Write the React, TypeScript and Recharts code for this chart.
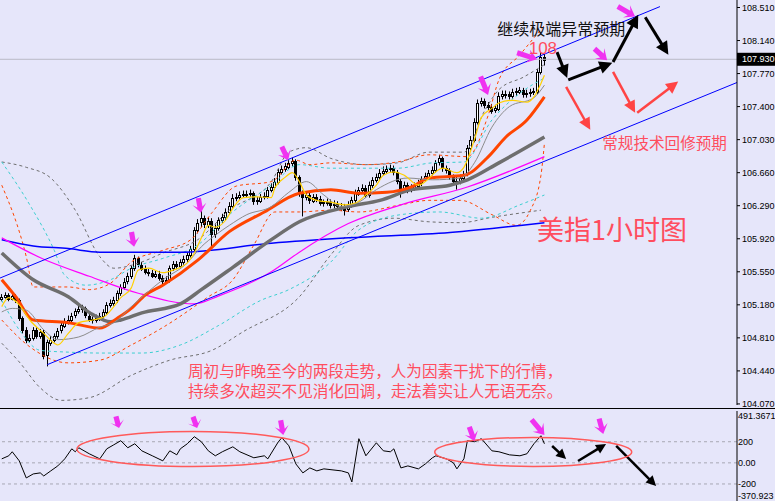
import React from "react";
import { ComposedChart, Bar, Line, XAxis, YAxis, ReferenceLine, ReferenceDot } from "recharts";

// ---------- candles (1h USD index) ----------
const opens = [
  105.25, 105.27, 105.29, 105.25, 105.28, 105.23, 105.03, 104.90, 104.79, 104.81,
  104.90, 104.83, 104.88, 104.61, 104.76, 104.79, 104.83, 104.89, 104.95, 104.99,
  105.01, 105.06, 105.11, 105.13, 105.14, 105.06, 105.02, 105.01, 105.03, 105.06,
  105.10, 105.18, 105.20, 105.23, 105.31, 105.38, 105.44, 105.50, 105.59, 105.70,
  105.63, 105.59, 105.55, 105.54, 105.51, 105.53, 105.48, 105.45, 105.46, 105.59,
  105.64, 105.62, 105.66, 105.69, 105.74, 105.81, 106.02, 106.10, 106.15, 106.08,
  106.12, 105.97, 106.04, 106.13, 106.16, 106.22, 106.29, 106.38, 106.39, 106.41,
  106.42, 106.42, 106.43, 106.34, 106.35, 106.39, 106.40, 106.47, 106.50, 106.56,
  106.67, 106.70, 106.73, 106.77, 106.79, 106.61, 106.43, 106.39, 106.41, 106.35,
  106.39, 106.37, 106.33, 106.32, 106.33, 106.30, 106.31, 106.29, 106.28, 106.25,
  106.30, 106.35, 106.43, 106.47, 106.49, 106.41, 106.52, 106.58, 106.61, 106.66,
  106.68, 106.70, 106.71, 106.67, 106.57, 106.49, 106.52, 106.47, 106.49, 106.51,
  106.54, 106.59, 106.62, 106.66, 106.69, 106.77, 106.82, 106.71, 106.69, 106.62,
  106.56, 106.57, 106.60, 106.65, 106.94, 107.03, 107.23, 107.44, 107.46, 107.42,
  107.40, 107.36, 107.38, 107.52, 107.54, 107.54, 107.52, 107.56, 107.57, 107.59,
  107.54, 107.55, 107.56, 107.57, 107.79, 107.96,
];
const closes = [
  105.27, 105.29, 105.25, 105.28, 105.23, 105.03, 104.90, 104.79, 104.81, 104.90,
  104.83, 104.88, 104.61, 104.76, 104.79, 104.83, 104.89, 104.95, 104.99, 105.01,
  105.06, 105.11, 105.13, 105.14, 105.06, 105.02, 105.01, 105.03, 105.06, 105.10,
  105.18, 105.20, 105.23, 105.31, 105.38, 105.44, 105.50, 105.59, 105.70, 105.63,
  105.59, 105.55, 105.54, 105.51, 105.53, 105.48, 105.45, 105.46, 105.59, 105.64,
  105.62, 105.66, 105.69, 105.74, 105.81, 106.02, 106.10, 106.15, 106.08, 106.12,
  105.97, 106.04, 106.13, 106.16, 106.22, 106.29, 106.38, 106.39, 106.41, 106.42,
  106.42, 106.43, 106.34, 106.35, 106.39, 106.40, 106.47, 106.50, 106.56, 106.67,
  106.70, 106.73, 106.77, 106.79, 106.61, 106.43, 106.39, 106.41, 106.35, 106.39,
  106.37, 106.33, 106.32, 106.33, 106.30, 106.31, 106.29, 106.28, 106.25, 106.30,
  106.35, 106.43, 106.47, 106.49, 106.41, 106.52, 106.58, 106.61, 106.66, 106.68,
  106.70, 106.71, 106.67, 106.57, 106.49, 106.52, 106.47, 106.49, 106.51, 106.54,
  106.59, 106.62, 106.66, 106.69, 106.77, 106.82, 106.71, 106.69, 106.62, 106.56,
  106.57, 106.60, 106.65, 106.94, 107.03, 107.23, 107.44, 107.46, 107.42, 107.40,
  107.36, 107.38, 107.52, 107.54, 107.54, 107.52, 107.56, 107.57, 107.59, 107.54,
  107.55, 107.56, 107.57, 107.79, 107.96, 107.93,
];
const highs = [
  105.30, 105.32, 105.31, 105.31, 105.30, 105.25, 105.05, 104.93, 104.85, 104.93,
  104.93, 104.91, 104.90, 104.79, 104.83, 104.86, 104.92, 104.98, 105.03, 105.06,
  105.09, 105.14, 105.17, 105.18, 105.16, 105.09, 105.05, 105.07, 105.09, 105.13,
  105.21, 105.24, 105.27, 105.34, 105.41, 105.48, 105.54, 105.62, 105.74, 105.72,
  105.66, 105.62, 105.58, 105.57, 105.56, 105.56, 105.51, 105.50, 105.62, 105.67,
  105.67, 105.69, 105.73, 105.77, 105.84, 106.05, 106.14, 106.24, 106.18, 106.16,
  106.15, 106.08, 106.16, 106.20, 106.26, 106.33, 106.42, 106.43, 106.45, 106.46,
  106.46, 106.47, 106.45, 106.39, 106.42, 106.44, 106.50, 106.54, 106.60, 106.70,
  106.74, 106.77, 106.80, 106.83, 106.81, 106.63, 106.46, 106.44, 106.44, 106.42,
  106.42, 106.40, 106.36, 106.37, 106.36, 106.35, 106.34, 106.32, 106.31, 106.34,
  106.39, 106.47, 106.50, 106.53, 106.52, 106.56, 106.61, 106.65, 106.70, 106.73,
  106.74, 106.75, 106.74, 106.69, 106.59, 106.56, 106.55, 106.53, 106.55, 106.58,
  106.62, 106.66, 106.69, 106.73, 106.80, 106.86, 106.84, 106.74, 106.71, 106.64,
  106.61, 106.64, 106.68, 106.97, 107.07, 107.27, 107.48, 107.50, 107.49, 107.45,
  107.43, 107.42, 107.56, 107.58, 107.58, 107.57, 107.60, 107.61, 107.62, 107.61,
  107.59, 107.60, 107.61, 107.82, 108.01, 107.99,
];
const lows = [
  105.22, 105.25, 105.22, 105.23, 105.20, 105.00, 104.86, 104.75, 104.76, 104.78,
  104.80, 104.80, 104.57, 104.49, 104.72, 104.76, 104.80, 104.86, 104.92, 104.96,
  104.98, 105.03, 105.08, 105.09, 105.03, 104.99, 104.97, 104.98, 105.00, 105.03,
  105.07, 105.15, 105.17, 105.20, 105.28, 105.35, 105.41, 105.47, 105.56, 105.60,
  105.56, 105.52, 105.50, 105.48, 105.48, 105.45, 105.41, 105.42, 105.43, 105.56,
  105.58, 105.59, 105.63, 105.66, 105.71, 105.78, 105.98, 106.05, 106.04, 106.04,
  105.82, 105.93, 106.01, 106.10, 106.13, 106.19, 106.26, 106.34, 106.36, 106.38,
  106.38, 106.39, 106.30, 106.30, 106.32, 106.36, 106.37, 106.44, 106.47, 106.53,
  106.64, 106.67, 106.70, 106.73, 106.57, 106.39, 106.17, 106.35, 106.31, 106.32,
  106.33, 106.29, 106.28, 106.29, 106.26, 106.26, 106.25, 106.23, 106.18, 106.22,
  106.27, 106.32, 106.40, 106.44, 106.38, 106.38, 106.49, 106.55, 106.58, 106.63,
  106.65, 106.67, 106.63, 106.53, 106.38, 106.45, 106.43, 106.44, 106.46, 106.48,
  106.51, 106.56, 106.59, 106.63, 106.66, 106.74, 106.67, 106.65, 106.58, 106.52,
  106.47, 106.53, 106.56, 106.62, 106.91, 107.00, 107.20, 107.40, 107.38, 107.36,
  107.32, 107.33, 107.35, 107.48, 107.49, 107.48, 107.49, 107.52, 107.54, 107.50,
  107.50, 107.51, 107.53, 107.54, 107.76, 107.86,
];

// ---------- moving averages (bar index, price) ----------
const maYellow: [number, number][] = [
  [0, 105.16], [2, 105.26], [5, 105.18], [8, 105.01], [12, 104.86], [15, 104.75], [16, 104.73], [19, 104.86],
  [22, 104.98], [26, 105.01], [29, 105.04], [32, 105.16], [34, 105.26], [37, 105.37], [39, 105.57], [42, 105.59],
  [46, 105.54], [49, 105.57], [53, 105.65], [55, 105.76], [57, 105.93], [59, 106.07], [61, 106.05], [64, 106.13],
  [66, 106.26], [69, 106.38], [73, 106.39], [77, 106.38], [78, 106.49], [81, 106.61], [83, 106.66], [85, 106.56],
  [87, 106.41], [90, 106.35], [94, 106.33], [98, 106.30], [101, 106.32], [104, 106.41], [107, 106.52], [109, 106.63],
  [112, 106.67], [115, 106.63], [119, 106.52], [126, 106.71], [130, 106.66], [132, 106.72], [135, 107.03], [137, 107.28],
  [140, 107.38], [142, 107.44], [146, 107.47], [150, 107.45], [152, 107.51], [154, 107.66], [155, 107.75],
];
const maThinGray: [number, number][] = [
  [0, 105.10], [3, 105.14], [7, 105.12], [12, 104.90], [16, 104.79], [22, 104.82], [28, 104.93], [32, 104.98],
  [37, 105.16], [46, 105.46], [53, 105.65], [57, 105.83], [61, 105.96], [65, 106.07], [70, 106.19], [77, 106.28],
  [82, 106.44], [87, 106.56], [92, 106.41], [97, 106.28], [102, 106.33], [107, 106.47], [116, 106.60], [123, 106.58],
  [131, 106.60], [135, 106.77], [140, 107.17], [145, 107.40], [152, 107.50], [155, 107.64],
];
const maOrange: [number, number][] = [
  [0, 105.46], [4, 105.27], [9, 105.01], [19, 104.98], [28, 104.92], [33, 105.03], [37, 105.14], [41, 105.29],
  [46, 105.40], [56, 105.68], [65, 106.00], [75, 106.22], [85, 106.43], [94, 106.47], [102, 106.43], [110, 106.44],
  [117, 106.50], [122, 106.60], [132, 106.63], [139, 106.84], [144, 107.06], [150, 107.25], [155, 107.51],
];
const maGray: [number, number][] = [
  [0, 105.76], [9, 105.46], [19, 105.27], [26, 105.07], [31, 104.99], [34, 105.01], [40, 105.09], [51, 105.19],
  [57, 105.35], [66, 105.60], [77, 105.91], [85, 106.11], [99, 106.28], [108, 106.35], [117, 106.47], [128, 106.52],
  [133, 106.58], [142, 106.77], [155, 107.06],
];
const maMagenta: [number, number][] = [
  [0, 105.93], [12, 105.69], [25, 105.50], [39, 105.31], [55, 105.19], [62, 105.28], [77, 105.55], [85, 105.77],
  [99, 106.09], [114, 106.30], [133, 106.50], [155, 106.84],
];
const maBlue: [number, number][] = [
  [0, 105.91], [9, 105.84], [19, 105.81], [28, 105.77], [51, 105.77], [77, 105.87], [99, 105.93], [128, 105.99],
  [155, 106.10],
];

// ---------- envelopes / bands ----------
const bandOrangeUp: [number, number][] = [
  [0, 106.52], [7, 105.72], [9, 105.38], [19, 105.38], [25, 105.35], [31, 105.42], [37, 105.66], [46, 105.79],
  [54, 105.91], [60, 106.21], [67, 106.51], [77, 106.56], [84, 106.80], [88, 106.75], [94, 106.77], [104, 106.75],
  [113, 106.78], [122, 106.86], [133, 106.84], [139, 107.31], [142, 107.70], [148, 107.98], [152, 108.17], [155, 108.31],
];
const bandOrangeLo: [number, number][] = [
  [0, 105.01], [8, 104.71], [19, 104.53], [28, 104.56], [37, 104.73], [47, 104.95], [59, 105.27], [66, 105.46],
  [72, 105.85], [78, 106.22], [85, 106.22], [94, 106.24], [102, 106.22], [114, 106.30], [122, 106.35], [131, 106.35],
  [140, 106.19], [147, 106.07], [151, 106.24], [154, 106.63], [155, 106.99],
];
const bandCyanUp: [number, number][] = [
  [0, 106.78], [8, 106.30], [15, 105.79], [18, 105.51], [24, 105.40], [31, 105.46], [37, 105.59], [46, 105.70],
  [56, 105.85], [65, 106.19], [77, 106.52], [85, 106.75], [94, 106.71], [113, 106.71], [123, 106.77], [132, 106.78],
  [140, 107.25], [148, 107.55], [155, 107.72],
];
const bandCyanLo: [number, number][] = [
  [0, 105.23], [5, 104.90], [11, 104.67], [19, 104.65], [28, 104.64], [40, 104.64], [51, 104.73], [62, 104.95],
  [74, 105.23], [82, 105.35], [94, 105.66], [102, 106.02], [114, 106.19], [125, 106.22], [137, 106.15], [148, 106.30],
  [155, 106.41],
];
const bandGrayUp: [number, number][] = [
  [0, 106.78], [7, 106.72], [14, 106.60], [21, 106.24], [28, 105.72], [32, 105.59], [40, 105.66], [46, 105.76],
  [56, 105.91], [65, 106.24], [77, 106.56], [82, 106.89], [87, 106.94], [94, 106.82], [104, 106.75], [113, 106.77],
  [122, 106.89], [132, 106.89], [138, 107.36], [142, 107.59], [149, 107.73], [155, 107.87],
];
const bandGrayLo: [number, number][] = [
  [0, 104.75], [5, 104.54], [11, 104.25], [17, 104.11], [25, 104.14], [37, 104.39], [48, 104.56], [60, 104.67],
  [69, 104.88], [85, 105.27], [94, 105.74], [102, 106.07], [112, 106.15], [122, 106.11], [131, 106.10], [140, 106.16],
  [154, 106.24],
];

// ---------- CCI ----------
const cciPts: [number, number][] = [
  [0, 38], [2, 67], [3, 105], [5, 19], [7, -143], [9, -105], [11, -95], [12, -124], [14, -76], [16, -29], [18, 38],
  [20, 133], [21, 105], [22, 143], [25, 86], [28, 38], [30, 133], [32, 171], [34, 210], [36, 143], [38, 181],
  [40, 114], [43, 67], [46, 19], [48, 114], [50, 76], [51, 133], [53, 181], [55, 248], [57, 200], [59, 114],
  [61, 67], [63, 105], [66, 152], [68, 105], [72, 48], [75, 67], [76, 38], [79, 200], [80, 238], [82, 162],
  [84, -10], [86, -95], [88, -48], [90, -76], [92, -57], [97, -76], [99, -95], [100, -181], [102, 229], [104, 67],
  [107, 190], [109, 114], [111, 105], [112, 133], [114, -48], [116, -29], [119, -57], [121, -10], [123, 48],
  [124, 67], [127, 38], [129, 0], [130, -57], [132, 38], [133, 210], [135, 200], [137, 229], [140, 114], [142, 105],
  [145, 76], [148, 67], [150, 86], [152, 181], [154, 257], [155, 181],
];

// ---------- axes ----------
const yTicks = [104.07, 104.44, 104.81, 105.18, 105.55, 105.92, 106.29, 106.66, 107.03, 107.4, 107.77, 108.14, 108.51];
const lastPrice = 107.93;
const cciTicks = [491.3671, 200, 0, -200, -370.923];
const cciLevels = [200, 0, -200];

// ---------- analyst drawings (bar index, price) ----------
const channelUpper = [{ x: -0.5, y: 105.48 }, { x: 188, y: 108.52 }];
const channelLower = [{ x: 13, y: 104.51 }, { x: 210, y: 107.67 }];
const blackArrows = [
  [158.6, 108.01, 161.5, 107.72], [161.8, 107.70, 174.4, 107.89],
  [174.6, 107.9, 181.8, 108.43], [183.8, 108.4, 190.4, 107.98],
];
const redArrows = [
  [161.2, 107.62, 168.1, 107.14], [174.6, 107.79, 180.9, 107.33], [181.5, 107.33, 193.2, 107.68],
];
const magentaMain = [
  [37.8, 105.83, 80, 15], [56.9, 106.21, 80, 15], [81.8, 106.8, 65, 15],
  [138.9, 107.53, 68, 20], [152.9, 107.93, 18, 21], [172.9, 107.92, 42, 17], [180.9, 108.41, 30, 20],
];
const cciMagenta = [
  [33.5, 330, 75, 12], [55.8, 330, 70, 12], [80.4, 264, 80, 15],
  [135, 207, 70, 15], [155, 264, 50, 20], [171.8, 273, 75, 16],
];
const cciBlackArrows = [
  [157.2, 160, 161.2, 36], [164.6, 18, 172.6, 179], [175.5, 160, 186.9, -219],
];
const cciEllipses = [
  [54.6, 131, 116, 17.5], [151.8, 103, 98.5, 14.5],
];

const RED = "#FF4D5E";
const CJK = "'Noto Sans CJK SC', 'Noto Sans', sans-serif";

// ---------- tables ----------
const SLOTS = 210;
const mainRows: any[] = Array.from({ length: SLOTS }, (_, i) => ({ i }));
opens.forEach((o, i) => {
  mainRows[i].open = o;
  mainRows[i].close = closes[i];
  mainRows[i].high = highs[i];
  mainRows[i].low = lows[i];
  mainRows[i].range = [lows[i], highs[i]];
});
const series: Record<string, [number, number][]> = {
  bOU: bandOrangeUp, bOL: bandOrangeLo, bCU: bandCyanUp, bCL: bandCyanLo, bGU: bandGrayUp, bGL: bandGrayLo,
  maBlue, maMagenta, maGray, maOrange, maThinGray, maYellow,
};
Object.entries(series).forEach(([k, pts]) => pts.forEach(([i, v]) => { mainRows[i][k] = v; }));
const cciRows: any[] = Array.from({ length: SLOTS }, (_, i) => ({ i }));
cciPts.forEach(([i, v]) => { cciRows[i].cci = v; });

// ---------- shapes ----------
const Candle = (props: any) => {
  const { x, y, width, height, payload } = props;
  if (!payload || payload.open == null || y == null) return null;
  const { open, close, high, low } = payload;
  const top = Math.min(y, y + height);
  const h = Math.abs(height);
  const px = (v: number) => top + ((high - v) / (high - low || 1)) * h;
  const cx = Math.floor(x + width / 2) + 0.5;
  const yo = px(open), yc = px(close);
  const bTop = Math.round(Math.min(yo, yc)) + 0.5;
  const bH = Math.max(Math.round(Math.abs(yo - yc)), 1);
  const up = close >= open;
  return (
    <g>
      <line x1={cx} x2={cx} y1={top} y2={top + h} stroke="#000" strokeWidth={1} />
      <rect x={cx - 1} y={bTop} width={2} height={bH} fill={up ? "#fff" : "#000"} stroke="#000" strokeWidth={1} />
    </g>
  );
};

const arrowShape = (color: string, w: number, head: number, hw: number) => (p: any) => {
  const { x1, y1, x2, y2 } = p;
  if ([x1, y1, x2, y2].some((v) => v == null || isNaN(v))) return <g />;
  const a = Math.atan2(y2 - y1, x2 - x1);
  const bx = x2 - head * Math.cos(a), by = y2 - head * Math.sin(a);
  const s = Math.sin(a), c = Math.cos(a);
  const pts = `${x2},${y2} ${bx + hw * s},${by - hw * c} ${bx - hw * s},${by + hw * c}`;
  return (
    <g>
      <line x1={x1} y1={y1} x2={bx + c} y2={by + s} stroke={color} strokeWidth={w} />
      <polygon points={pts} fill={color} />
    </g>
  );
};

const fatArrow = (angle: number, len: number) => (p: any) => {
  const { cx, cy } = p;
  const a = (angle * Math.PI) / 180;
  const hl = Math.min(10, len * 0.6);
  const local = [[0, 0], [-hl, -7], [-hl + 3, -2.6], [-len, -2.6], [-len, 2.6], [-hl + 3, 2.6], [-hl, 7]];
  const pts = local
    .map(([x, y]) => `${cx + x * Math.cos(a) - y * Math.sin(a)},${cy + x * Math.sin(a) + y * Math.cos(a)}`)
    .join(" ");
  return <polygon points={pts} fill="#F032F0" />;
};

const textShape = (text: string, size: number, color: string, family = CJK) => (p: any) => (
  <text x={p.cx} y={p.cy} fontSize={size} fill={color} fontFamily={family}>{text}</text>
);

const CciTick = (p: any) => {
  const v = p.payload.value;
  const label = v === 0 ? "0.00" : String(v);
  const dy = v > 400 ? 5 : v < -300 ? -6 : 0;
  return (
    <text x={p.x} y={p.y + dy} dy="0.355em" fontSize={9} fill="#000" fontFamily="'Liberation Sans', Arial">{label}</text>
  );
};

const lineSpecs = [
  { key: "bGU", color: "#6E6E6E", w: 1, dash: "3 3" },
  { key: "bGL", color: "#6E6E6E", w: 1, dash: "3 3" },
  { key: "bCU", color: "#3CCFD0", w: 1, dash: "3 3" },
  { key: "bCL", color: "#3CCFD0", w: 1, dash: "3 3" },
  { key: "bOU", color: "#FF4500", w: 1, dash: "3 3" },
  { key: "bOL", color: "#FF4500", w: 1, dash: "3 3" },
  { key: "maBlue", color: "#0000FF", w: 1.5 },
  { key: "maMagenta", color: "#FF00FF", w: 1.2 },
  { key: "maGray", color: "#6E6E6E", w: 3.5 },
  { key: "maOrange", color: "#FF4500", w: 3 },
  { key: "maThinGray", color: "#8C8C8C", w: 1 },
  { key: "maYellow", color: "#FFD000", w: 1.2 },
];

export default function App() {
  return (
    <div style={{ position: "absolute", left: 0, top: 0, width: 775, height: 501, overflow: "hidden", background: "#E6E6FA" }}>
      <div style={{ position: "absolute", left: 0, top: 0 }}>
        <ComposedChart width={775} height={410} data={mainRows} margin={{ top: 0, right: 0, bottom: 5, left: 0 }}>
          <XAxis type="number" dataKey="i" domain={[-0.5, 210]} hide allowDataOverflow />
          <YAxis
            orientation="right"
            width={38}
            domain={[104.058, 108.594]}
            allowDataOverflow
            ticks={yTicks}
            tickFormatter={(v: number) => v.toFixed(3)}
            tick={{ fontSize: 9, fill: "#000", fontFamily: "'Liberation Sans', Arial" }}
            tickSize={3}
            tickMargin={2}
            axisLine={{ stroke: "#000" }}
            tickLine={{ stroke: "#000" }}
            interval={0}
          />
          <ReferenceLine y={lastPrice} stroke="#B9B9C6" strokeWidth={1} ifOverflow="visible" />
          <Bar dataKey="range" barSize={3} shape={<Candle />} isAnimationActive={false} />
          {lineSpecs.map((s) => (
            <Line
              key={s.key}
              dataKey={s.key}
              type="monotone"
              stroke={s.color}
              strokeWidth={s.w}
              strokeDasharray={s.dash}
              dot={false}
              activeDot={false}
              connectNulls
              isAnimationActive={false}
            />
          ))}
          <ReferenceLine segment={channelUpper} stroke="#0000FF" strokeWidth={1} ifOverflow="visible" />
          <ReferenceLine segment={channelLower} stroke="#0000FF" strokeWidth={1} ifOverflow="visible" />
          {blackArrows.map((a, k) => (
            <ReferenceLine key={"ba" + k} segment={[{ x: a[0], y: a[1] }, { x: a[2], y: a[3] }]} ifOverflow="visible" shape={arrowShape("#000", 3, 13, 6.5)} />
          ))}
          {redArrows.map((a, k) => (
            <ReferenceLine key={"ra" + k} segment={[{ x: a[0], y: a[1] }, { x: a[2], y: a[3] }]} ifOverflow="visible" shape={arrowShape("#FF4444", 2.5, 12, 6)} />
          ))}
          {magentaMain.map((m, k) => (
            <ReferenceDot key={"mm" + k} x={m[0]} y={m[1]} ifOverflow="visible" shape={fatArrow(m[2], m[3])} />
          ))}
          <ReferenceDot x={141.5} y={108.2} ifOverflow="visible" shape={textShape("继续极端异常预期", 16, "#111")} />
          <ReferenceDot x={150.5} y={107.99} ifOverflow="visible" shape={textShape("108", 17, RED, "'Liberation Sans', Arial")} />
          <ReferenceDot x={171.5} y={106.92} ifOverflow="visible" shape={textShape("常规技术回修预期", 15.6, RED)} />
          <ReferenceDot x={152.9} y={105.906} ifOverflow="visible" shape={textShape("美指1小时图", 27, RED)} />
          <ReferenceDot x={53.2} y={104.377} ifOverflow="visible" shape={textShape("周初与昨晚至今的两段走势，人为因素干扰下的行情，", 15.6, RED)} />
          <ReferenceDot x={53.2} y={104.153} ifOverflow="visible" shape={textShape("持续多次超买不见消化回调，走法着实让人无语无奈。", 15.6, RED)} />
          <ReferenceDot
            x={210}
            y={lastPrice}
            ifOverflow="visible"
            shape={(p: any) => (
              <g>
                <rect x={p.cx} y={p.cy - 6.5} width={38} height={13} fill="#000" />
                <text x={p.cx + 5} y={p.cy} dy="0.355em" fontSize={9} fill="#fff" fontFamily="'Liberation Sans', Arial">{lastPrice.toFixed(3)}</text>
              </g>
            )}
          />
        </ComposedChart>
      </div>
      <div style={{ position: "absolute", left: 0, top: 408, width: 775, height: 1, background: "#000" }} />
      <div style={{ position: "absolute", left: 0, top: 409 }}>
        <ComposedChart width={775} height={94} data={cciRows} margin={{ top: 2, right: 0, bottom: 1, left: 0 }}>
          <XAxis type="number" dataKey="i" domain={[-0.5, 210]} hide allowDataOverflow />
          <YAxis
            orientation="right"
            width={38}
            domain={[-370.923, 491.3671]}
            allowDataOverflow
            ticks={cciTicks}
            interval={0}
            tick={<CciTick />}
            tickLine={false}
            tickSize={0}
            tickMargin={1}
            axisLine={{ stroke: "#000" }}
          />
          {cciLevels.map((v) => (
            <ReferenceLine key={v} y={v} stroke="#A8A8B4" strokeDasharray="3 3" />
          ))}
          <Line dataKey="cci" type="linear" stroke="#000" strokeWidth={1} dot={false} activeDot={false} connectNulls isAnimationActive={false} />
          {cciEllipses.map((e, k) => (
            <ReferenceDot
              key={"el" + k}
              x={e[0]}
              y={e[1]}
              ifOverflow="visible"
              shape={(p: any) => <ellipse cx={p.cx} cy={p.cy} rx={e[2]} ry={e[3]} fill="none" stroke="#FF5A5A" strokeWidth={1.5} />}
            />
          ))}
          {cciMagenta.map((m, k) => (
            <ReferenceDot key={"cm" + k} x={m[0]} y={m[1]} ifOverflow="visible" shape={fatArrow(m[2], m[3])} />
          ))}
          {cciBlackArrows.map((a, k) => (
            <ReferenceLine key={"cb" + k} segment={[{ x: a[0], y: a[1] }, { x: a[2], y: a[3] }]} ifOverflow="visible" shape={arrowShape("#000", 2.5, 10, 5)} />
          ))}
        </ComposedChart>
      </div>
    </div>
  );
}
